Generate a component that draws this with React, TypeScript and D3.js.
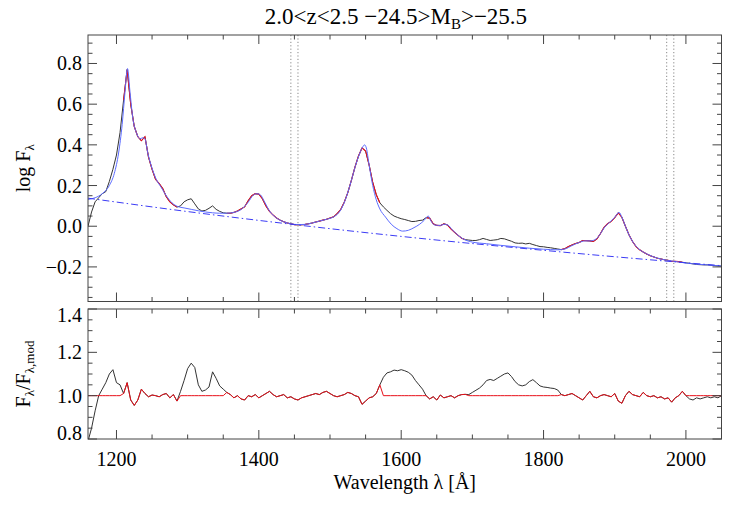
import React from "react";
import * as d3 from "d3";

// spectrum binned on a 5 A grid starting at 1160 A
const lamStart = 1160;
const lamStep = 5;

// log F_lambda, composite spectrum (black histogram)
const logFlux = [
  0.0, 0.07, 0.12, 0.14, 0.16, 0.17, 0.22, 0.28, 0.35, 0.46,
  0.62, 0.77, 0.6, 0.49, 0.44, 0.42, 0.44, 0.34, 0.28, 0.23,
  0.21, 0.185, 0.145, 0.12, 0.105, 0.094, 0.1, 0.12, 0.13, 0.135,
  0.11, 0.085, 0.075, 0.078, 0.088, 0.1, 0.083, 0.073, 0.066, 0.064,
  0.064, 0.068, 0.075, 0.085, 0.095, 0.125, 0.15, 0.16, 0.158, 0.135,
  0.1, 0.073, 0.055, 0.04, 0.03, 0.022, 0.016, 0.012, 0.008, 0.007,
  0.007, 0.009, 0.012, 0.016, 0.021, 0.025, 0.03, 0.034, 0.04, 0.046,
  0.062, 0.082, 0.118, 0.165, 0.225, 0.29, 0.345, 0.385, 0.37, 0.3,
  0.215, 0.155, 0.115, 0.095, 0.078, 0.062, 0.05, 0.043, 0.037, 0.033,
  0.028, 0.023, 0.024, 0.028, 0.03, 0.042, 0.04, 0.012, 0.004, 0.003,
  0.012, 0.006, -0.014, -0.03, -0.045, -0.059, -0.066, -0.068, -0.07, -0.07,
  -0.066, -0.06, -0.065, -0.07, -0.068, -0.066, -0.06, -0.062, -0.068, -0.074,
  -0.082, -0.084, -0.083, -0.087, -0.084, -0.09, -0.095, -0.1, -0.101, -0.104,
  -0.106, -0.109, -0.112, -0.115, -0.11, -0.1, -0.092, -0.085, -0.08, -0.07,
  -0.071, -0.072, -0.075, -0.062, -0.036, -0.005, 0.012, 0.024, 0.042, 0.066,
  0.044, 0.0, -0.042, -0.075, -0.1, -0.116, -0.127, -0.137, -0.145, -0.151,
  -0.157, -0.161, -0.165, -0.168, -0.173, -0.173, -0.174, -0.177, -0.18, -0.182,
  -0.185, -0.188, -0.189, -0.19, -0.19, -0.192, -0.193, -0.195, -0.196,
];

// F / F_mod (bottom panel)
const ratio = [
  0.79, 0.85, 0.93, 1.0, 1.03, 1.06, 1.1, 1.12, 1.06, 1.05,
  1.01, 1.06, 0.98, 0.955, 0.98, 1.03, 1.01, 0.995, 1.003, 1.0,
  0.995, 1.005, 1.01, 0.99, 1.005, 0.975, 1.02, 1.07, 1.125, 1.15,
  1.13, 1.05, 1.02, 1.026, 1.04, 1.11, 1.08, 1.045, 1.03, 1.015,
  1.005, 0.99, 1.0, 0.985, 0.98, 1.0, 0.995, 1.005, 0.99, 1.0,
  1.01, 1.02, 1.005, 0.995, 1.0, 1.005, 0.99, 0.995, 0.985, 0.98,
  0.99, 0.995, 1.0, 1.005, 1.01, 1.005, 1.015, 1.02, 1.01, 1.0,
  0.995, 1.0, 1.005, 1.015, 1.01, 1.0, 0.995, 0.96, 0.975, 0.99,
  0.995, 1.01, 1.05, 1.085, 1.105, 1.11, 1.118, 1.115, 1.12, 1.115,
  1.108, 1.095, 1.07, 1.05, 1.03, 1.0, 0.985, 0.995, 0.98, 1.003,
  0.99, 0.995, 1.0, 0.99, 1.0, 1.005, 1.006, 1.005, 1.015, 1.025,
  1.035, 1.05, 1.07, 1.075, 1.07, 1.08, 1.09, 1.1, 1.105, 1.088,
  1.065, 1.05, 1.045, 1.05, 1.065, 1.074, 1.06, 1.045, 1.04, 1.038,
  1.035, 1.033, 1.026, 1.005, 1.0, 1.005, 1.01, 1.0, 0.99, 0.98,
  1.0, 1.02, 0.995, 0.99, 1.0, 1.005, 1.0, 0.995, 1.01, 0.975,
  0.965, 1.0, 1.02, 1.005, 1.0, 0.995, 1.015, 1.0, 0.995, 1.0,
  0.99, 0.995, 0.985, 0.99, 0.97, 0.99, 1.0, 1.02, 1.0, 0.985,
  0.98, 0.99, 0.985, 0.99, 0.995, 0.99, 0.995, 0.99, 1.0,
];

// wavelength ranges used in the fit (red)
const fitWindows = [
  [1209, 1286],
  [1355, 1571],
  [1633, 1691],
  [1825, 1998],
];

// model (blue solid)
const modelLam = [
  1160, 1170, 1180, 1190, 1197, 1203, 1208, 1212, 1215.5, 1219, 1223, 1228, 1233, 1237, 1240,
  1244, 1250, 1256, 1263, 1270, 1278, 1286, 1295, 1305, 1315, 1325, 1335, 1345, 1355, 1365,
  1375, 1385, 1392, 1397, 1402, 1408, 1415, 1425, 1435, 1445, 1455, 1465, 1475, 1485, 1495,
  1505, 1512, 1518, 1524, 1530, 1536, 1542, 1546, 1548.5, 1551, 1555, 1560, 1565, 1570, 1578,
  1586, 1594, 1602, 1610, 1618, 1626, 1632, 1638, 1642, 1647, 1655, 1661, 1666, 1672, 1680,
  1688, 1700, 1720, 1740, 1760, 1780, 1800, 1820, 1830, 1840, 1850, 1858, 1866, 1874, 1880,
  1886, 1893, 1900, 1906, 1910, 1915, 1920, 1926, 1934, 1945, 1960, 1975, 1990, 2010, 2030, 2050,
];
const modelFlux = [
  0.132, 0.14, 0.16, 0.2, 0.26, 0.36, 0.5, 0.66, 0.775, 0.66, 0.53, 0.46, 0.43, 0.435, 0.43,
  0.36, 0.285, 0.23, 0.19, 0.15, 0.115, 0.097, 0.09, 0.083, 0.076, 0.07, 0.066, 0.064, 0.064, 0.068,
  0.082, 0.118, 0.152, 0.16, 0.155, 0.12, 0.075, 0.04, 0.022, 0.012, 0.008, 0.009, 0.016, 0.025, 0.034,
  0.046, 0.065, 0.1, 0.155, 0.225, 0.3, 0.36, 0.39, 0.4, 0.385, 0.3, 0.2, 0.13, 0.085, 0.045,
  0.01, -0.012, -0.024, -0.02, -0.007, 0.01, 0.028, 0.05, 0.025, 0.006, 0.004, 0.01, 0.005, -0.018, -0.045,
  -0.064, -0.078, -0.086, -0.094, -0.101, -0.108, -0.113, -0.116, -0.112, -0.095, -0.08, -0.072, -0.072, -0.062, -0.036,
  -0.004, 0.02, 0.044, 0.068, 0.045, 0.0, -0.042, -0.08, -0.112, -0.136, -0.157, -0.168, -0.176, -0.185, -0.19, -0.196,
];

// power-law continuum (blue dash-dot)
const contLam = [1160, 1300, 1450, 1600, 1750, 1900, 2050];
const contFlux = [0.138, 0.072, 0.008, -0.05, -0.102, -0.15, -0.194];

// continuum windows (dotted)
const windowLines = [1445, 1455, 1973, 1983];

const xMajor = [1200, 1400, 1600, 1800, 2000];
const topYMajor = [-0.2, 0.0, 0.2, 0.4, 0.6, 0.8];
const botYMajor = [0.8, 1.0, 1.2, 1.4];

const W = 736;
const H = 507;
const left = 88;
const right = 721.5;
const top1 = 35;
const bot1 = 301.5;
const top2 = 309;
const bot2 = 439;
const frame = "#444";
const serif = { fontFamily: "Liberation Serif" };

const lam = logFlux.map((_, i) => lamStart + i * lamStep);
const inFit = (l) => fitWindows.some(([a, b]) => l >= a && l <= b);

function Ticks({ x, y, yTop, yBot, yMaj, yMinor }) {
  const xMinor = d3.range(1200, 2051, 50);
  const els = [];
  xMinor.forEach((v) => {
    const len = xMajor.includes(v) ? 9 : 4.5;
    const px = x(v);
    els.push(<line key={"xb" + v} x1={px} x2={px} y1={yBot} y2={yBot - len} />);
    els.push(<line key={"xt" + v} x1={px} x2={px} y1={yTop} y2={yTop + len} />);
  });
  yMinor.forEach((v) => {
    const isMaj = yMaj.some((m) => Math.abs(m - v) < 1e-6);
    const len = isMaj ? 9 : 4.5;
    const py = y(v);
    els.push(<line key={"yl" + v} x1={left} x2={left + len} y1={py} y2={py} />);
    els.push(<line key={"yr" + v} x1={right} x2={right - len} y1={py} y2={py} />);
  });
  return <g stroke={frame} strokeWidth={1}>{els}</g>;
}

export default function App() {
  const x = d3.scaleLinear().domain([1160, 2050]).range([left, right]);
  const yT = d3.scaleLinear().domain([-0.37, 0.94]).range([bot1, top1]);
  const yB = d3.scaleLinear().domain([0.8, 1.4]).range([bot2, top2]);

  const lineTop = d3.line().x((d) => x(d[0])).y((d) => yT(d[1]));
  const lineBot = d3.line().x((d) => x(d[0])).y((d) => yB(d[1]));
  const smooth = d3.line().x((d) => x(d[0])).y((d) => yT(d[1])).curve(d3.curveMonotoneX);

  const topData = lam.map((l, i) => [l, logFlux[i]]);
  const botData = lam.map((l, i) => [l, ratio[i]]);
  const redBot = lam.map((l, i) => [l, inFit(l) ? ratio[i] : 1.0]);
  const redTopSegs = fitWindows.map(([a, b]) => topData.filter((d) => d[0] >= a && d[0] <= b));
  const model = modelLam.map((l, i) => [l, modelFlux[i]]);
  const cont = contLam.map((l, i) => [l, contFlux[i]]);

  const topMinor = d3.range(-0.35, 0.941, 0.05).map((v) => +v.toFixed(2));
  const botMinor = d3.range(0.8, 1.401, 0.05).map((v) => +v.toFixed(2));
  // edge labels of the ratio panel sit inside the frame
  const botLabelShift = (v) => (v >= 1.4 ? 6 : v <= 0.8 ? -6 : 0);

  return (
    <svg width={W} height={H} style={{ position: "absolute", left: 0, top: 0, background: "#fff" }}>
      <defs>
        <clipPath id="clipTop"><rect x={left} y={top1} width={right - left} height={bot1 - top1} /></clipPath>
        <clipPath id="clipBot"><rect x={left} y={top2} width={right - left} height={bot2 - top2} /></clipPath>
      </defs>

      <text x={396} y={24} fontSize={23} textAnchor="middle" style={serif}>
        2.0&lt;z&lt;2.5 −24.5&gt;M<tspan fontSize={15} dy={5}>B</tspan><tspan dy={-5}>&gt;−25.5</tspan>
      </text>

      {/* top panel */}
      <g clipPath="url(#clipTop)" fill="none">
        <path d={lineTop(topData)} stroke="#333" strokeWidth={1} />
        {redTopSegs.map((s, i) => (
          <path key={i} d={lineTop(s)} stroke="#e8101a" strokeWidth={1.1} />
        ))}
        <path d={smooth(model)} stroke="#5b6bff" strokeWidth={1} />
        <path d={smooth(cont)} stroke="#3b3bf5" strokeWidth={1} strokeDasharray="7,3,1.5,3" />
        {windowLines.map((l) => (
          <line key={l} x1={x(l)} x2={x(l)} y1={top1} y2={bot1} stroke="#888" strokeDasharray="1.2,2.2" />
        ))}
      </g>
      <rect x={left} y={top1} width={right - left} height={bot1 - top1} fill="none" stroke={frame} />
      <Ticks x={x} y={yT} yTop={top1} yBot={bot1} yMaj={topYMajor} yMinor={topMinor} />
      {topYMajor.map((v) => (
        <text key={v} x={82} y={yT(v)} dy="0.35em" fontSize={20} textAnchor="end" style={serif}>
          {v < 0 ? "−" + Math.abs(v).toFixed(1) : v.toFixed(1)}
        </text>
      ))}
      <text transform={`translate(30,${(top1 + bot1) / 2}) rotate(-90)`} fontSize={20} textAnchor="middle" style={serif}>
        log F<tspan fontSize={13} dy={4}>λ</tspan>
      </text>

      {/* bottom panel */}
      <g clipPath="url(#clipBot)" fill="none">
        <path d={lineBot(botData)} stroke="#333" strokeWidth={1} />
        <path d={lineBot(redBot)} stroke="#e8101a" strokeWidth={1} />
      </g>
      <rect x={left} y={top2} width={right - left} height={bot2 - top2} fill="none" stroke={frame} />
      <Ticks x={x} y={yB} yTop={top2} yBot={bot2} yMaj={botYMajor} yMinor={botMinor} />
      {botYMajor.map((v) => (
        <text key={v} x={82} y={yB(v) + botLabelShift(v)} dy="0.35em" fontSize={20} textAnchor="end" style={serif}>
          {v.toFixed(1)}
        </text>
      ))}
      <text transform={`translate(30,${(top2 + bot2) / 2}) rotate(-90)`} fontSize={20} textAnchor="middle" style={serif}>
        F<tspan fontSize={13} dy={4}>λ</tspan><tspan dy={-4}>/F</tspan><tspan fontSize={13} dy={4}>λ,mod</tspan>
      </text>

      {xMajor.map((v) => (
        <text key={v} x={x(v)} y={466} fontSize={20} textAnchor="middle" style={serif}>{v}</text>
      ))}
      <text x={(left + right) / 2} y={489} fontSize={20} textAnchor="middle" style={serif}>
        Wavelength λ [Å]
      </text>
    </svg>
  );
}
